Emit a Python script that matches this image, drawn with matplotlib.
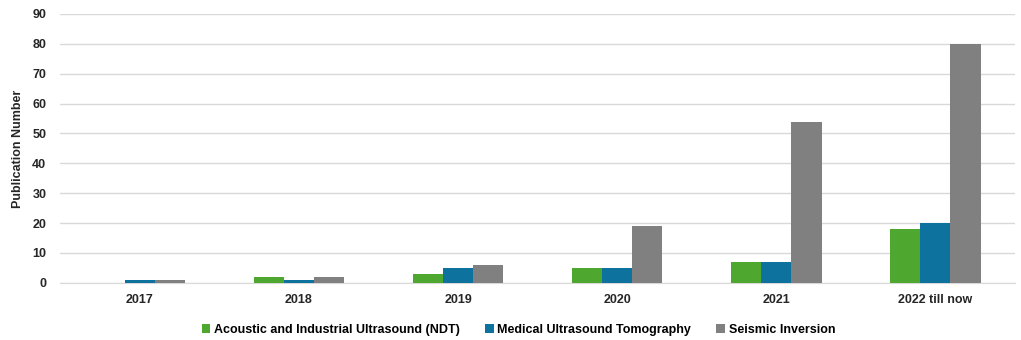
import matplotlib
matplotlib.use("Agg")
import matplotlib.pyplot as plt
import numpy as np

# ── Dados ──────────────────────────────────────────────────────────────────────
anos = ["2017", "2018", "2019", "2020", "2021", "2022 till now"]
ndt = [0, 2, 3, 5, 7, 18]
medico = [1, 1, 5, 5, 7, 20]
sismico = [1, 2, 6, 19, 54, 80]
series = ["Acoustic and Industrial Ultrasound (NDT)",
          "Medical Ultrasound Tomography",
          "Seismic Inversion"]
cores = ["#4EA72E", "#0E729F", "#808080"]

plt.rcParams["font.family"] = ["Liberation Sans", "DejaVu Sans"]
plt.rcParams["font.weight"] = "bold"

fig = plt.figure(figsize=(10.21, 3.4), dpi=100)
ax = fig.add_axes([0.059, 0.168, 0.935, 0.791])

x = np.arange(len(anos))
largura = 0.19
for i, (valores, nome, cor) in enumerate(zip([ndt, medico, sismico], series, cores)):
    ax.bar(x + (i - 1) * largura, valores, largura, color=cor, label=nome, zorder=3)

ax.set_xlim(-0.5, len(anos) - 0.5)
ax.set_ylim(0, 90)
ax.set_yticks(range(0, 91, 10))
ax.set_xticks(x)
ax.set_xticklabels(anos)
ax.tick_params(axis="both", length=0, labelsize=9, colors="#262626")
ax.tick_params(axis="x", pad=8)
ax.tick_params(axis="y", pad=10)
ax.grid(axis="y", color="#D9D9D9", linewidth=1, zorder=0)
for lado in ["top", "right", "left"]:
    ax.spines[lado].set_visible(False)
ax.spines["bottom"].set_color("#D9D9D9")
ax.set_ylabel("Publication Number", fontsize=9, fontweight="bold", color="#262626",
              labelpad=6)

ax.legend(loc="center", bbox_to_anchor=(0.48, -0.175), ncol=3, frameon=False,
          fontsize=9, handlelength=0.7, handleheight=0.7, handletextpad=0.3,
          columnspacing=2.0, borderpad=0.1)

plt.savefig("out.png", dpi=100)
plt.close()
